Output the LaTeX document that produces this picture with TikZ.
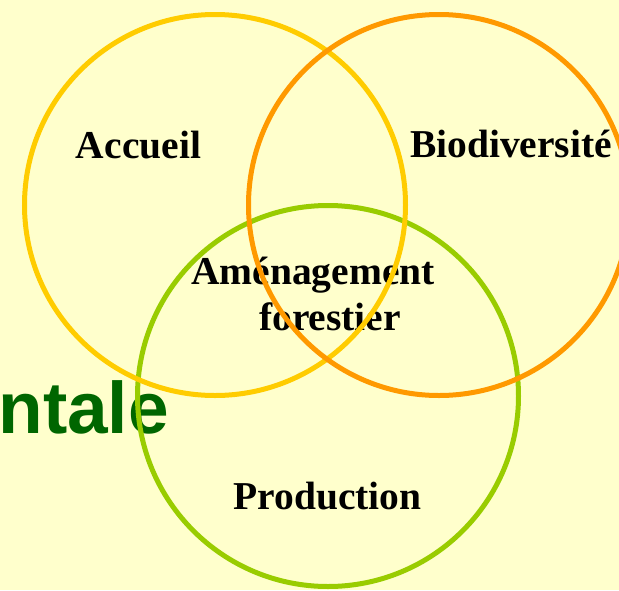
\documentclass[tikz,border=0pt]{standalone}
\usepackage{fontspec}
\setmainfont{Liberation Serif}
\newfontfamily\labelsans{Liberation Sans}
\definecolor{bgyellow}{HTML}{FFFFCC}
\definecolor{ringyellow}{HTML}{FFCC00}
\definecolor{ringorange}{HTML}{FF9900}
\definecolor{ringgreen}{HTML}{99CC00}
\definecolor{titlegreen}{HTML}{006600}
\tikzset{
  ring/.style={line width=5pt, draw=#1},
  lbl/.style={font=\fontsize{39.5}{46}\selectfont\bfseries, text=black, inner sep=0pt, anchor=base},
}
\begin{document}
\begin{tikzpicture}[x=1pt,y=-1pt]
\fill[bgyellow] (0,0) rectangle (619,590);
\useasboundingbox (0,0) rectangle (619,590);
\begin{scope}
\clip (0,0) rectangle (619,590);
\node[font=\labelsans\fontsize{73}{80}\selectfont\bfseries, text=titlegreen, inner sep=0pt, anchor=base east] (title) at (169,433) {ntale};
\node[lbl] (accueil) at (138.5,158) {Accueil};
\node[lbl] (biodiv) at (511,157) {Biodiversité};
\node[lbl, align=left, anchor=base west] (amenag) at (191,330) {Aménagement\\[0pt]\hspace*{68pt}forestier};
\node[lbl] (prod) at (327.5,509) {Production};
\draw[ring=ringgreen] (328,396) circle (190.5);
\draw[ring=ringyellow] (215,205) circle (190.5);
\draw[ring=ringorange] (439,205) circle (190.5);
\end{scope}
\end{tikzpicture}
\end{document}
